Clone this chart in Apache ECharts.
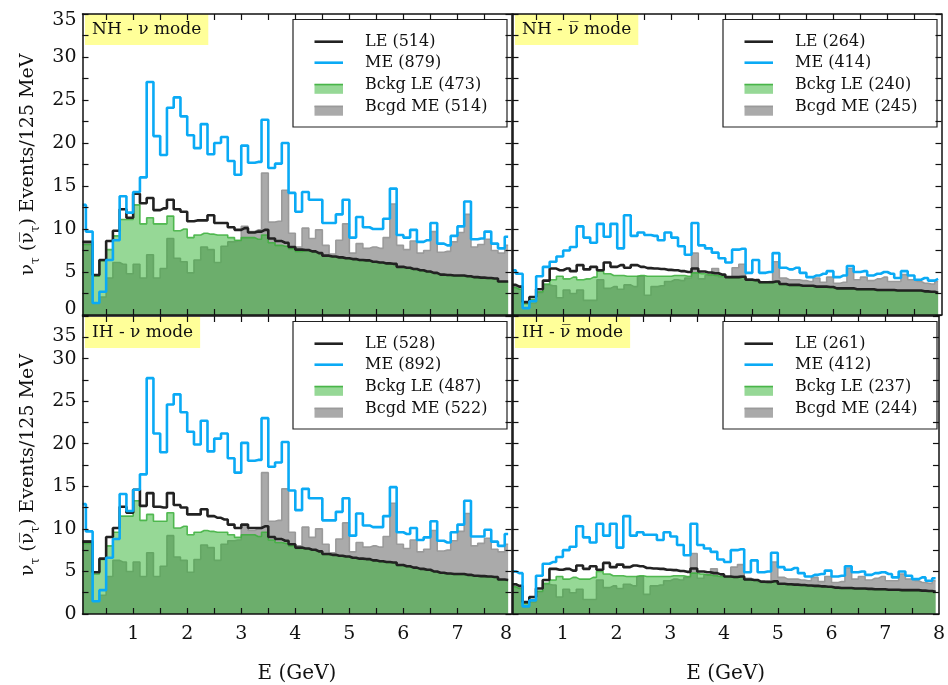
<!DOCTYPE html>
<html>
<head>
<meta charset="utf-8">
<script src="https://cdn.jsdelivr.net/npm/echarts@6/dist/echarts.min.js"></script>
<style>
  html, body { margin: 0; padding: 0; background: #ffffff; }
  #chart { width: 948px; height: 685px; }
</style>
</head>
<body>
<div id="chart"></div>
<script>
// ---- binning: 64 bins of 125 MeV from 0 to 8 GeV ----
const NBINS = 64;
const BIN_WIDTH = 0.125;
const binCenters = Array.from({ length: NBINS }, (_, i) => (i + 0.5) * BIN_WIDTH);

// axis ticks and labels
const xTickValues = [0.5, 1, 1.5, 2, 2.5, 3, 3.5, 4, 4.5, 5, 5.5, 6, 6.5, 7, 7.5];
const xLabelValuesLeft = [1, 2, 3, 4, 5, 6, 7, 7.9];
const xLabelValuesRight = [1, 2, 3, 4, 5, 6, 7, 8];
const yTickValues = [0, 2.5, 5, 7.5, 10, 12.5, 15, 17.5, 20, 22.5, 25, 27.5, 30, 32.5, 35];
const yLabelValues = [0, 5, 10, 15, 20, 25, 30, 35];

// ---- NH, neutrino mode ----
const nhNuLabels = ['LE (514)', 'ME (879)', 'Bckg LE (473)', 'Bcgd ME (514)'];
const nhNu_LE = [8.5, 8.5, 4.65, 6.4, 8.6, 9.8, 12.3, 11.3, 14.1, 13.0,
  13.6, 12.2, 12.4, 13.4, 12.3, 12.0, 10.9, 11.0, 11.0, 11.6,
  10.7, 10.7, 10.2, 9.9, 10.1, 9.6, 9.7, 9.9, 8.9, 8.6,
  8.4, 7.9, 7.6, 7.55, 7.4, 7.2, 6.9, 6.8, 6.7, 6.6,
  6.5, 6.4, 6.35, 6.2, 6.1, 6.0, 5.95, 5.6, 5.5, 5.35,
  5.2, 5.05, 4.9, 4.7, 4.65, 4.6, 4.6, 4.5, 4.4, 4.35, 4.3, 4.25, 3.9, 3.9];
const nhNu_ME = [12.8, 9.7, 1.4, 2.7, 6.4, 8.7, 13.8, 11.9, 14.3, 16.0,
  27.1, 20.8, 18.6, 24.1, 25.3, 23.1, 20.9, 19.4, 22.2, 18.7,
  20.0, 20.7, 17.9, 16.3, 19.7, 17.7, 17.8, 22.7, 17.1, 17.6,
  20.0, 14.2, 12.0, 14.3, 13.4, 13.4, 10.7, 10.7, 11.7, 13.4,
  9.0, 11.4, 10.2, 10.0, 10.0, 11.2, 14.7, 9.3, 9.0, 9.9,
  8.5, 8.7, 10.7, 8.3, 8.1, 9.2, 10.3, 13.2, 8.8, 8.9, 9.7, 8.3, 7.75, 9.1];
const nhNu_bckgLE = [8.2, 8.2, 4.5, 6.3, 7.6, 9.2, 11.1, 11.1, 12.8, 10.6,
  11.3, 10.6, 10.6, 11.5, 9.8, 10.0, 9.0, 9.3, 9.5, 9.4,
  9.3, 9.3, 9.0, 8.7, 9.0, 9.0, 8.8, 9.3, 8.4, 8.1,
  8.0, 7.7, 7.4, 7.5, 7.35, 7.15, 6.85, 6.75, 6.65, 6.55,
  6.45, 6.35, 6.3, 6.15, 6.05, 5.95, 5.9, 5.55, 5.45, 5.3,
  5.15, 5.0, 4.85, 4.65, 4.6, 4.55, 4.55, 4.45, 4.35, 4.3, 4.25, 4.2, 3.85, 3.85];
const nhNu_bcgdME = [8.5, 8.5, 1.4, 2.1, 4.3, 6.1, 5.9, 4.8, 5.9, 4.3,
  7.0, 4.3, 5.4, 8.9, 6.6, 6.2, 4.9, 6.4, 7.9, 7.6,
  6.1, 8.0, 8.5, 8.6, 10.3, 9.7, 9.9, 16.5, 10.8, 10.9,
  14.5, 9.5, 7.9, 10.1, 8.9, 9.9, 8.1, 7.1, 8.7, 10.6,
  7.2, 8.3, 7.75, 7.9, 7.75, 9.0, 12.9, 8.1, 7.6, 8.6,
  7.2, 7.5, 9.7, 7.3, 7.4, 8.5, 9.6, 11.7, 7.9, 8.2, 8.8, 7.5, 7.2, 8.1];

// ---- NH, antineutrino mode ----
const nhAnuLabels = ['LE (264)', 'ME (414)', 'Bckg LE (240)', 'Bcgd ME (245)'];
const nhAnu_LE = [3.5, 3.3, 1.5, 2.1, 3.0, 4.0, 5.4, 5.2, 5.4, 5.1,
  5.8, 5.3, 5.6, 5.2, 6.1, 5.6, 5.8, 5.5, 5.8, 5.6,
  5.45, 5.4, 5.35, 5.25, 5.2, 5.1, 5.0, 5.4, 5.05, 4.95,
  4.85, 4.7, 4.4, 4.4, 4.45, 4.1, 4.05, 3.8, 3.8, 3.9,
  3.6, 3.5, 3.5, 3.4, 3.4, 3.3, 3.3, 3.25, 3.1, 3.1,
  3.1, 3.0, 3.0, 3.0, 2.9, 2.9, 2.9, 2.85, 2.85, 2.85, 2.85, 2.75, 2.7, 2.6];
const nhAnu_ME = [5.2, 4.8, 0.8, 1.6, 4.5, 5.6, 6.2, 6.8, 7.5, 7.9,
  10.3, 9.0, 8.4, 10.6, 9.1, 10.6, 7.75, 11.6, 9.2, 9.6,
  9.3, 9.2, 8.7, 9.6, 9.0, 8.0, 7.0, 10.7, 8.1, 7.75,
  7.25, 6.6, 6.1, 7.6, 7.7, 4.9, 6.4, 4.9, 5.0, 7.2,
  5.5, 5.3, 5.5, 4.9, 4.4, 4.6, 4.8, 5.1, 4.4, 4.6,
  5.7, 5.0, 5.1, 4.6, 4.8, 5.0, 4.8, 4.3, 5.1, 4.6, 4.1, 4.3, 4.0, 4.2];
const nhAnu_bckgLE = [3.2, 3.0, 1.3, 1.8, 2.7, 3.6, 4.1, 4.5, 4.2, 4.4,
  4.1, 4.2, 4.4, 5.1, 4.8, 4.6, 4.6, 4.5, 4.5, 4.6,
  4.5, 4.5, 4.5, 4.5, 4.6, 4.6, 4.5, 4.9, 4.8, 4.7,
  4.6, 4.5, 4.35, 4.35, 4.4, 4.05, 4.0, 3.75, 3.75, 3.85,
  3.55, 3.45, 3.45, 3.35, 3.35, 3.25, 3.25, 3.2, 3.05, 3.05,
  3.05, 2.95, 2.95, 2.95, 2.85, 2.85, 2.85, 2.8, 2.8, 2.8, 2.8, 2.7, 2.65, 2.55];
const nhAnu_bcgdME = [3.4, 3.3, 0.8, 1.4, 2.6, 3.5, 3.4, 2.0, 2.9, 2.5,
  2.9, 1.7, 1.7, 4.1, 3.1, 3.3, 3.0, 3.5, 3.3, 4.5,
  2.3, 3.3, 3.4, 3.9, 4.1, 4.0, 4.3, 7.2, 4.2, 4.6,
  5.4, 4.4, 4.3, 5.5, 5.9, 4.2, 4.0, 3.7, 3.9, 6.2,
  4.3, 4.1, 4.1, 4.0, 3.9, 4.3, 3.8, 4.4, 3.7, 3.8,
  5.4, 4.1, 4.4, 4.0, 4.2, 4.4, 3.9, 3.9, 4.7, 4.1, 3.9, 3.7, 3.6, 3.9];

// ---- IH, neutrino mode ----
const ihNuLabels = ['LE (528)', 'ME (892)', 'Bckg LE (487)', 'Bcgd ME (522)'];
const ihNu_LE = [8.5, 8.5, 4.9, 6.5, 9.05, 10.1, 12.6, 11.9, 14.6, 12.7,
  14.2, 12.6, 12.5, 14.2, 12.8, 12.5, 11.7, 11.7, 12.3, 11.5,
  11.3, 11.1, 10.5, 10.1, 10.5, 10.1, 10.1, 10.3, 9.05, 8.8,
  8.6, 8.2, 7.8, 7.7, 7.55, 7.35, 7.05, 6.95, 6.85, 6.75,
  6.6, 6.5, 6.45, 6.3, 6.2, 6.1, 6.05, 5.75, 5.6, 5.45,
  5.3, 5.2, 5.0, 4.85, 4.75, 4.7, 4.7, 4.6, 4.5, 4.45, 4.4, 4.35, 4.05, 4.0];
const ihNu_ME = [12.9, 9.7, 1.5, 2.8, 6.6, 8.8, 14.1, 12.1, 14.6, 16.4,
  27.7, 21.2, 19.0, 24.6, 25.8, 23.7, 21.4, 19.9, 22.7, 19.1,
  20.6, 21.2, 18.3, 16.6, 20.1, 18.0, 18.1, 23.0, 17.3, 17.8,
  20.2, 14.5, 12.2, 14.7, 13.6, 13.6, 11.0, 11.0, 12.0, 13.6,
  9.2, 11.8, 10.4, 10.2, 10.2, 11.5, 14.9, 9.6, 9.4, 10.1,
  8.7, 9.0, 10.9, 8.6, 8.4, 9.6, 10.5, 13.3, 9.1, 9.1, 9.9, 8.5, 8.0, 9.4];
const ihNu_bckgLE = [8.3, 8.3, 4.7, 6.4, 8.0, 9.6, 11.5, 11.5, 13.3, 11.0,
  11.7, 10.9, 10.9, 11.9, 10.1, 10.3, 9.3, 9.6, 9.8, 9.7,
  9.6, 9.6, 9.3, 9.0, 9.3, 9.3, 9.1, 9.6, 8.7, 8.4,
  8.3, 8.0, 7.7, 7.65, 7.5, 7.3, 7.0, 6.9, 6.8, 6.7,
  6.55, 6.45, 6.4, 6.25, 6.15, 6.05, 6.0, 5.7, 5.55, 5.4,
  5.25, 5.15, 4.95, 4.8, 4.7, 4.65, 4.65, 4.55, 4.45, 4.4, 4.35, 4.3, 4.0, 3.95];
const ihNu_bcgdME = [8.6, 8.6, 1.5, 2.2, 4.4, 6.3, 6.1, 5.0, 6.1, 4.4,
  7.2, 4.4, 5.6, 9.2, 6.7, 6.3, 4.9, 6.4, 8.1, 7.8,
  6.3, 8.2, 8.6, 8.7, 10.4, 9.8, 10.0, 16.6, 10.9, 11.0,
  14.7, 9.6, 8.0, 10.2, 9.0, 10.0, 8.2, 7.2, 8.8, 10.7,
  7.3, 8.4, 7.85, 8.0, 7.85, 9.1, 13.0, 8.2, 7.7, 8.7,
  7.3, 7.6, 9.8, 7.4, 7.5, 8.6, 9.7, 11.8, 8.0, 8.3, 8.9, 7.6, 7.3, 8.2];

// ---- IH, antineutrino mode ----
const ihAnuLabels = ['LE (261)', 'ME (412)', 'Bckg LE (237)', 'Bcgd ME (244)'];
const ihAnu_LE = [3.5, 3.3, 1.4, 2.0, 3.0, 4.0, 5.3, 5.2, 5.3, 5.1,
  5.7, 5.3, 5.6, 5.2, 6.0, 5.5, 5.8, 5.5, 5.7, 5.6,
  5.4, 5.35, 5.3, 5.2, 5.15, 5.05, 4.95, 5.35, 5.0, 4.9,
  4.8, 4.65, 4.4, 4.35, 4.4, 4.05, 4.0, 3.8, 3.75, 3.85,
  3.55, 3.5, 3.45, 3.4, 3.35, 3.3, 3.25, 3.2, 3.1, 3.05,
  3.05, 3.0, 3.0, 2.95, 2.9, 2.9, 2.85, 2.85, 2.8, 2.8, 2.8, 2.75, 2.7, 2.6];
const ihAnu_ME = [5.0, 4.8, 0.9, 1.6, 4.5, 5.9, 6.1, 6.7, 7.5, 7.9,
  10.3, 9.0, 8.4, 10.6, 9.2, 10.6, 7.8, 11.5, 9.2, 9.6,
  9.3, 9.3, 8.7, 9.6, 9.1, 8.1, 6.9, 10.6, 8.1, 7.7,
  7.3, 6.4, 6.1, 7.5, 7.6, 4.9, 6.3, 4.9, 5.0, 7.2,
  5.5, 5.2, 5.4, 4.8, 4.4, 4.6, 4.7, 5.1, 4.4, 4.5,
  5.6, 4.9, 5.0, 4.6, 4.8, 4.9, 4.7, 4.3, 5.0, 4.5, 4.1, 4.3, 3.9, 4.2];
const ihAnu_bckgLE = [3.2, 3.0, 1.2, 1.7, 2.7, 3.6, 4.0, 4.4, 4.1, 4.3,
  4.1, 4.1, 4.3, 5.0, 4.7, 4.5, 4.5, 4.4, 4.4, 4.5,
  4.4, 4.4, 4.4, 4.4, 4.5, 4.5, 4.4, 4.8, 4.7, 4.6,
  4.5, 4.4, 4.35, 4.3, 4.35, 4.0, 3.95, 3.75, 3.7, 3.8,
  3.5, 3.45, 3.4, 3.35, 3.3, 3.25, 3.2, 3.15, 3.05, 3.0,
  3.0, 2.95, 2.95, 2.9, 2.85, 2.85, 2.8, 2.8, 2.75, 2.75, 2.75, 2.7, 2.65, 2.55];
const ihAnu_bcgdME = [3.4, 3.3, 0.8, 1.4, 2.6, 3.5, 3.4, 2.0, 2.9, 2.5,
  2.9, 1.7, 1.7, 4.0, 3.1, 3.3, 3.0, 3.5, 3.3, 4.4,
  2.3, 3.3, 3.4, 3.9, 4.1, 4.0, 4.3, 7.1, 4.2, 4.6,
  5.3, 4.4, 4.3, 5.5, 5.8, 4.2, 4.0, 3.7, 3.9, 6.1,
  4.3, 4.1, 4.1, 4.0, 3.9, 4.3, 3.8, 4.4, 3.7, 3.8,
  5.4, 4.1, 4.4, 4.0, 4.2, 4.4, 3.9, 3.9, 4.7, 4.1, 3.9, 3.7, 3.6, 3.9];

// ---- styling ----
const FONT = '"DejaVu Serif", serif';
const INK = '#111111';
const COL_LE = '#222222';
const COL_ME = '#0aaaf5';
const COL_BKG_LE_FILL = 'rgba(46, 178, 46, 0.5)';
const COL_BKG_LE_EDGE = 'rgba(60, 175, 60, 0.85)';
const COL_BKG_ME_FILL = '#aaaaaa';
const COL_BKG_ME_EDGE = '#9a9a9a';
const PANEL_TAG_BG = '#ffff99';

const panels = [
  { tag: 'NH - ν mode', names: nhNuLabels, le: nhNu_LE, me: nhNu_ME, bLE: nhNu_bckgLE, bME: nhNu_bcgdME },
  { tag: 'NH - ν\u0305 mode', names: nhAnuLabels, le: nhAnu_LE, me: nhAnu_ME, bLE: nhAnu_bckgLE, bME: nhAnu_bcgdME },
  { tag: 'IH - ν mode', names: ihNuLabels, le: ihNu_LE, me: ihNu_ME, bLE: ihNu_bckgLE, bME: ihNu_bcgdME },
  { tag: 'IH - ν\u0305 mode', names: ihAnuLabels, le: ihAnu_LE, me: ihAnu_ME, bLE: ihAnu_bckgLE, bME: ihAnu_bcgdME }
];

// panel frames (px): top row / bottom row, left column / right column
const frames = [
  { left: 82.5, top: 14, width: 429, height: 301 },
  { left: 512.5, top: 14, width: 429, height: 301 },
  { left: 82.5, top: 316, width: 429, height: 301 },
  { left: 512.5, top: 316, width: 429, height: 301 }
];

const axisLineStyle = { color: INK, width: 1.5 };
const tickStyle = { color: INK, width: 1.2 };

const xAxes = [];
const yAxes = [];
frames.forEach((f, g) => {
  const bottomRow = g >= 2;
  const leftCol = g % 2 === 0;
  xAxes.push({
    gridIndex: g, type: 'value', min: 0.0625, max: 8, position: 'bottom', z: 10,
    axisLine: { show: true, onZero: false, lineStyle: axisLineStyle },
    axisTick: { show: true, inside: true, length: 6, customValues: xTickValues, lineStyle: tickStyle },
    axisLabel: {
      show: bottomRow, customValues: leftCol ? xLabelValuesLeft : xLabelValuesRight,
      formatter: v => String(Math.round(v)),
      fontFamily: FONT, fontSize: 19, color: INK, margin: 11
    },
    splitLine: { show: false },
    name: bottomRow ? 'E (GeV)' : '', nameLocation: 'middle', nameGap: 50,
    nameTextStyle: { fontFamily: FONT, fontSize: 20, color: INK }
  });
  xAxes.push({
    gridIndex: g, type: 'value', min: 0.0625, max: 8, position: 'top', z: 10,
    axisLine: { show: true, onZero: false, lineStyle: axisLineStyle },
    axisTick: { show: true, inside: true, length: 6, customValues: xTickValues, lineStyle: tickStyle },
    axisLabel: { show: false }, splitLine: { show: false }
  });
  yAxes.push({
    gridIndex: g, type: 'value', min: 0, max: 35, position: 'left', z: 10,
    axisLine: { show: true, onZero: false, lineStyle: axisLineStyle },
    axisTick: { show: true, inside: true, length: 6, customValues: yTickValues, lineStyle: tickStyle },
    axisLabel: {
      show: leftCol, customValues: yLabelValues, margin: 6,
      fontFamily: FONT, fontSize: 19, color: INK,
      formatter: v => {
        if (!bottomRow && v === 0) return '{up|0}';
        if (!bottomRow && v === 35) return '{dn|35}';
        if (bottomRow && v === 35) return '{dn2|35}';
        return String(v);
      },
      rich: {
        up: { fontFamily: FONT, fontSize: 19, color: INK, padding: [0, 0, 12, 0] },
        dn: { fontFamily: FONT, fontSize: 19, color: INK, padding: [12, 0, 0, 0] },
        dn2: { fontFamily: FONT, fontSize: 19, color: INK, padding: [40, 0, 0, 0] }
      }
    },
    splitLine: { show: false },
    name: leftCol ? '{a|ν}{s|τ}{a| (ν\u0305}{s|τ}{a|) Events/125 MeV}' : '',
    nameLocation: 'middle', nameGap: 41,
    nameTextStyle: {
      fontFamily: FONT, fontSize: 19, color: INK,
      rich: {
        a: { fontFamily: FONT, fontSize: 19, color: INK, lineHeight: 26, verticalAlign: 'middle' },
        s: { fontFamily: FONT, fontSize: 12, color: INK, lineHeight: 26, verticalAlign: 'bottom' }
      }
    }
  });
  yAxes.push({
    gridIndex: g, type: 'value', min: 0, max: 35, position: 'right', z: 10,
    axisLine: { show: true, onZero: false, lineStyle: axisLineStyle },
    axisTick: { show: true, inside: true, length: 6, customValues: yTickValues, lineStyle: tickStyle },
    axisLabel: { show: false }, splitLine: { show: false }
  });
});

function histSeries(name, values, g, kind) {
  const base = {
    name, type: 'line', step: 'middle', xAxisIndex: 2 * g, yAxisIndex: 2 * g,
    data: binCenters.map((x, i) => [x, values[i]]),
    symbol: 'none', silent: true, animation: false, clip: true
  };
  if (kind === 'bME') {
    return Object.assign(base, { z: 2, lineStyle: { color: COL_BKG_ME_EDGE, width: 1.6 },
      areaStyle: { color: COL_BKG_ME_FILL, opacity: 1 } });
  }
  if (kind === 'bLE') {
    return Object.assign(base, { z: 3, lineStyle: { color: COL_BKG_LE_EDGE, width: 1.6 },
      areaStyle: { color: COL_BKG_LE_FILL, opacity: 1 } });
  }
  if (kind === 'le') {
    return Object.assign(base, { z: 4, lineStyle: { color: COL_LE, width: 2.6 } });
  }
  return Object.assign(base, { z: 5, lineStyle: { color: COL_ME, width: 2.6 } });
}

const series = [];
panels.forEach((p, g) => {
  series.push(histSeries(p.names[3], p.bME, g, 'bME'));
  series.push(histSeries(p.names[2], p.bLE, g, 'bLE'));
  series.push(histSeries(p.names[0], p.le, g, 'le'));
  series.push(histSeries(p.names[1], p.me, g, 'me'));
});

// panel tags (yellow boxes)
const titles = panels.map((p, g) => ({
  text: p.tag,
  left: frames[g].left + 2.5,
  top: frames[g].top + (g >= 2 ? 1 : 0),
  padding: [6, 7, 5, 7],
  backgroundColor: PANEL_TAG_BG,
  textStyle: { fontFamily: FONT, fontSize: 17, fontWeight: 'normal', color: INK, lineHeight: 20 },
  z: 8
}));

// legend boxes drawn with graphic elements
function legendBox(p, g) {
  const f = frames[g];
  const bx = f.left + f.width - 218.5;
  const by = f.top + 5.5;
  const rows = [22.2, 43.2, 65.3, 87.2];
  const sx = bx + 21.5, sw = 28.5, tx = bx + 72;
  const font = '16px ' + FONT;
  const els = [
    { type: 'rect', shape: { x: bx, y: by, width: 214, height: 107.5 },
      style: { fill: '#ffffff', stroke: '#222222', lineWidth: 1.2 } },
    { type: 'line', shape: { x1: sx, y1: by + rows[0], x2: sx + sw, y2: by + rows[0] },
      style: { stroke: COL_LE, lineWidth: 2.6 } },
    { type: 'line', shape: { x1: sx, y1: by + rows[1], x2: sx + sw, y2: by + rows[1] },
      style: { stroke: COL_ME, lineWidth: 2.6 } },
    { type: 'rect', shape: { x: sx, y: by + rows[2] - 1, width: sw, height: 10 },
      style: { fill: COL_BKG_LE_FILL } },
    { type: 'line', shape: { x1: sx, y1: by + rows[2] - 0.2, x2: sx + sw, y2: by + rows[2] - 0.2 },
      style: { stroke: COL_BKG_LE_EDGE, lineWidth: 1.6 } },
    { type: 'rect', shape: { x: sx, y: by + rows[3] - 1, width: sw, height: 10 },
      style: { fill: COL_BKG_ME_FILL } },
    { type: 'line', shape: { x1: sx, y1: by + rows[3] - 0.2, x2: sx + sw, y2: by + rows[3] - 0.2 },
      style: { stroke: COL_BKG_ME_EDGE, lineWidth: 1.6 } }
  ];
  p.names.forEach((n, k) => {
    els.push({ type: 'text', style: { text: n, x: tx, y: by + rows[k], font,
      fill: INK, align: 'left', verticalAlign: 'middle' } });
  });
  return { type: 'group', z: 20, children: els };
}

const option = {
  backgroundColor: '#ffffff',
  animation: false,
  title: titles,
  grid: frames.map(f => Object.assign({ show: false, containLabel: false }, f)),
  xAxis: xAxes,
  yAxis: yAxes,
  series: series,
  graphic: panels.map((p, g) => legendBox(p, g))
};

const chart = echarts.init(document.getElementById('chart'), null, { renderer: 'canvas' });
chart.setOption(option);
</script>
</body>
</html>
